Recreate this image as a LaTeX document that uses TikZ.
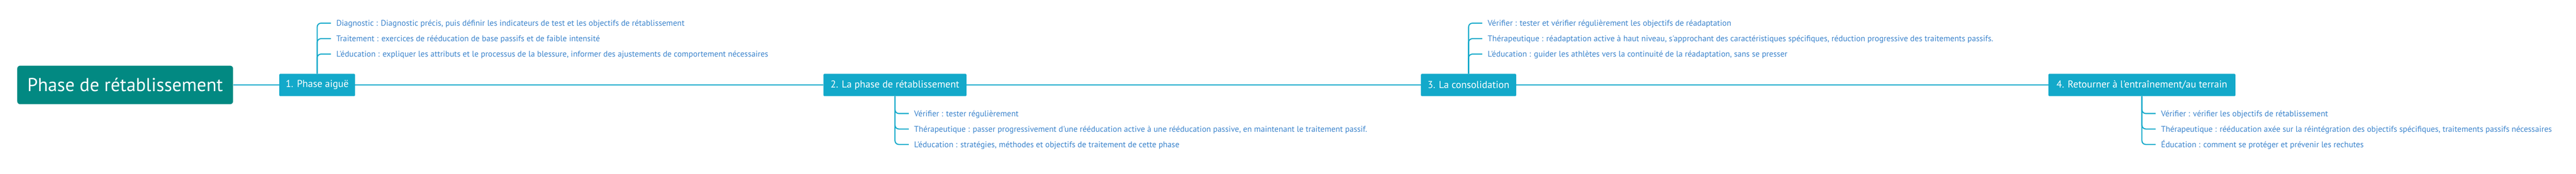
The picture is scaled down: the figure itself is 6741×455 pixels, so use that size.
\documentclass[tikz,border=0pt]{standalone}
\usepackage{fontspec}
\setmainfont{PT Sans}[Ligatures=TeXOff]
\usepackage{xcolor}
\usetikzlibrary{calc, positioning}

\definecolor{rootteal}{RGB}{2,137,130}
\definecolor{phaseblue}{RGB}{19,169,202}
\definecolor{leafblue}{RGB}{61,133,205}

\tikzset{
	root/.style = {fill = rootteal, text = white, rounded corners = 8pt, minimum width = 565pt, minimum height = 101pt, inner sep = 0pt, font = \fontsize{49}{58}\selectfont},
	phase/.style = {fill = phaseblue, text = white, rounded corners = 2pt, minimum height = 58.4pt, inner sep = 0pt, font = \fontsize{26.3}{32}\selectfont},
	leaf/.style = {anchor = west, text = leafblue, inner xsep = 14pt, inner ysep = 0pt, text height = 15.2pt, text depth = 0pt, font = \fontsize{21.7}{26}\selectfont},
	spine/.style = {draw = phaseblue, line width = 2.8pt},
	twig/.style = {draw = phaseblue, line width = 2.8pt, rounded corners = 10pt}
}

\begin{document}
\begin{tikzpicture}[x = 1pt, y = -1pt]
	\def\ly{222.5};
	\def\up{60.7};
	\def\dn{297.3};
	\def\gap{40.5};
	
	\useasboundingbox (0,0) rectangle (6741,455);
	\fill[white] (0,0) rectangle (6741,455);
	
	\node [root] (root) at (327.5,\ly) {Phase de rétablissement};
	
	\node [phase, minimum width = 198pt] (aigue) at (830,\ly) {1. Phase aiguë};
	\node [phase, minimum width = 374pt] (retab) at (2342,\ly) {2. La phase de rétablissement};
	\node [phase, minimum width = 249pt] (conso) at (3843,\ly) {3. La consolidation};
	\node [phase, minimum width = 489pt] (terrain) at (5605,\ly) {4. Retourner à l'entraînement/au terrain};
	
	\draw [spine] (root) -- (aigue);
	\draw [spine] (aigue) -- (retab);
	\draw [spine] (retab) -- (conso);
	\draw [spine] (conso) -- (terrain);
	
	% phase 1, above the line
	\node [leaf] (aigue1) at (866,\up) {Diagnostic : Diagnostic précis, puis définir les indicateurs de test et les objectifs de rétablissement};
	\node [leaf] (aigue2) at (866,{\up + \gap}) {Traitement : exercices de rééducation de base passifs et de faible intensité};
	\node [leaf] (aigue3) at (866,{\up + 2*\gap}) {L'éducation : expliquer les attributs et le processus de la blessure, informer des ajustements de comportement nécessaires};
	
	% phase 2, below the line
	\node [leaf] (retab1) at (2378,\dn) {Vérifier : tester régulièrement};
	\node [leaf] (retab2) at (2378,{\dn + \gap}) {Thérapeutique : passer progressivement d'une rééducation active à une rééducation passive, en maintenant le traitement passif.};
	\node [leaf] (retab3) at (2378,{\dn + 2*\gap}) {L'éducation : stratégies, méthodes et objectifs de traitement de cette phase};
	
	% phase 3, above the line
	\node [leaf] (conso1) at (3879,\up) {Vérifier : tester et vérifier régulièrement les objectifs de réadaptation};
	\node [leaf] (conso2) at (3879,{\up + \gap}) {Thérapeutique : réadaptation active à haut niveau, s'approchant des caractéristiques spécifiques, réduction progressive des traitements passifs.};
	\node [leaf] (conso3) at (3879,{\up + 2*\gap}) {L'éducation : guider les athlètes vers la continuité de la réadaptation, sans se presser};
	
	% phase 4, below the line
	\node [leaf] (terrain1) at (5641,\dn) {Vérifier : vérifier les objectifs de rétablissement};
	\node [leaf] (terrain2) at (5641,{\dn + \gap}) {Thérapeutique : rééducation axée sur la réintégration des objectifs spécifiques, traitements passifs nécessaires};
	\node [leaf] (terrain3) at (5641,{\dn + 2*\gap}) {Éducation : comment se protéger et prévenir les rechutes};
	
	\foreach \k in {1,2,3} {
		\draw [twig] (aigue.north) |- (aigue\k.west);
		\draw [twig] (retab.south) |- (retab\k.west);
		\draw [twig] (conso.north) |- (conso\k.west);
		\draw [twig] (terrain.south) |- (terrain\k.west);
	}
\end{tikzpicture}
\end{document}
